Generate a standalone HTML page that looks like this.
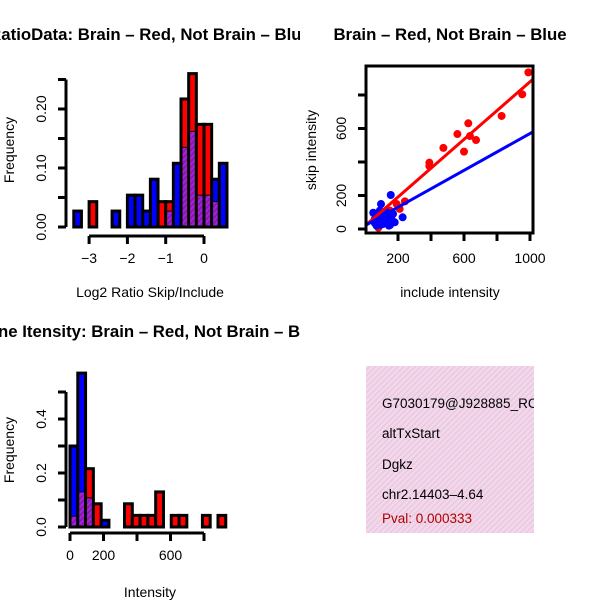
<!DOCTYPE html>
<html><head><meta charset="utf-8"><style>
body{margin:0;background:#fff}
svg{display:block;font-family:"Liberation Sans",Arial,sans-serif}
</style></head><body>
<svg id="s" width="600" height="600">
<defs>
<pattern id="hatch" width="4" height="4" patternUnits="userSpaceOnUse" patternTransform="rotate(45)">
<rect width="4" height="4" fill="#a020f0"/><rect width="2" height="4" fill="#8a1a9a"/></pattern>
<pattern id="pinkhatch" width="4" height="4" patternUnits="userSpaceOnUse" patternTransform="rotate(45)">
<rect width="4" height="4" fill="#f8d4f2"/><rect width="1.3" height="4" fill="#dccfd0"/></pattern>
<clipPath id="c1"><rect x="0" y="0" width="300" height="300"/></clipPath>
<clipPath id="c3"><rect x="0" y="300" width="300" height="300"/></clipPath>
<clipPath id="cinfo"><rect x="366" y="366" width="168" height="167"/></clipPath>
</defs>
<g id="p1" clip-path="url(#c1)"></g>
<g id="p2"></g>
<g id="p3" clip-path="url(#c3)"></g>
<g clip-path="url(#cinfo)" font-size="13.5">
<rect x="366" y="366" width="168" height="167" fill="url(#pinkhatch)"/>
<text x="382" y="408">G7030179@J928885_RC</text>
<text x="382" y="438">altTxStart</text>
<text x="382" y="469">Dgkz</text>
<text x="382" y="499">chr2.14403–4.64</text>
<text x="382" y="523" fill="#b00000">Pval: 0.000333</text>
</g>
</svg>
<script>
const NS="http://www.w3.org/2000/svg";
const FS=14, TFS=16.8;
function mk(p,t,a){const e=document.createElementNS(NS,t);for(const k in a)e.setAttribute(k,a[k]);p.appendChild(e);return e;}

// ---- Ratio histogram data ----
const ratioBinStart=-3.4, ratioBinWidth=0.2;
const ratioRed=[0,0,0.043,0,0,0,0,0,0,0,0,0.043,0.043,0,0.217,0.26,0.174,0.174,0.043,0];
const ratioBlue=[0.027,0,0,0,0,0.027,0,0.054,0.054,0.027,0.081,0,0.027,0.108,0.135,0.162,0.054,0.054,0.081,0.108];
const ratioXTicks=[-3,-2,-1,0];
const ratioYTicks=[0,0.05,0.1,0.15,0.2,0.25];
const ratioYLabels=["0.00","","0.10","","0.20",""];

// ---- Intensity histogram data ----
const intBinStart=0, intBinWidth=46.5;
const intRed=[0.04,0.13,0.216,0.086,0,0,0,0.086,0.043,0.043,0.043,0.13,0,0.043,0.043,0,0,0.043,0,0.043];
const intBlue=[0.30,0.57,0.108,0,0.025,0,0,0,0,0,0,0,0,0,0,0,0,0,0,0];
const intXTicks=[0,200,400,600,800];
const intXLabels=["0","200","","600",""];
const intYTicks=[0,0.1,0.2,0.3,0.4,0.5];
const intYLabels=["0.0","","0.2","","0.4",""];

// ---- Scatter data ----
const redX=[990,953,828,626,560,636,673,600,475,390,390,242,192,81,150,120,210];
const redY=[935,804,675,631,567,555,531,462,484,396,376,165,149,8,110,80,120];
const blueX=[156,97,228,50,152,60,80,100,120,140,70,90,110,130,160,180,75,105,145,170,60,95,125,135];
const blueY=[203,149,70,97,24,60,40,80,50,90,20,110,30,100,60,40,70,60,20,90,35,25,75,45];
const redFit=[19,0.86];
const blueFit=[20,0.55];
const scXTicks=[200,400,600,800,1000];
const scXLabels=["200","","600","","1000"];
const scYTicks=[0,200,400,600,800];
const scYLabels=["0","200","","600",""];

function hist(g,xs,ys,binStart,binW,red,blue,xt,xl,yt,yl,axY,xAxisY){
  for(let i=0;i<red.length;i++){
    const x0=xs(binStart+i*binW), x1=xs(binStart+(i+1)*binW);
    const r=red[i], b=blue[i];
    const hi=Math.max(r,b), lo=Math.min(r,b);
    if(hi>0){
      const bar=mk(g,'rect',{x:x0,y:ys(hi),width:x1-x0,height:ys(0)-ys(hi),fill:r>=b?'#ff0000':'#0000ff',stroke:'#000','stroke-width':3});
      
      
    }
    if(lo>0){
      const ov=mk(g,'rect',{x:x0+1.5,y:ys(lo),width:x1-x0-3,height:ys(0)-ys(lo)-1.5,fill:'url(#hatch)'});
      
      
      mk(g,'line',{x1:x0,x2:x1,y1:ys(lo),y2:ys(lo),stroke:'#000','stroke-width':1});
    }
  }
  const ya=mk(g,'line',{x1:axY,x2:axY,y1:ys(yt[0]),y2:ys(yt[yt.length-1]),stroke:'#000','stroke-width':3});
  
  
  yt.forEach((v,i)=>{
    mk(g,'line',{x1:axY-8,x2:axY,y1:ys(v),y2:ys(v),stroke:'#000','stroke-width':3});
    if(yl[i]){const t=mk(g,'text',{x:0,y:0,'font-size':FS,'text-anchor':'middle',transform:`translate(${axY-20},${ys(v)}) rotate(-90)`});t.textContent=yl[i];
      
      }
  });
  const xa=mk(g,'line',{x1:xs(xt[0]),x2:xs(xt[xt.length-1]),y1:xAxisY,y2:xAxisY,stroke:'#000','stroke-width':3});
  
  
  xt.forEach((v,i)=>{
    mk(g,'line',{x1:xs(v),x2:xs(v),y1:xAxisY,y2:xAxisY+8,stroke:'#000','stroke-width':3});
    if(xl[i]){const t=mk(g,'text',{x:xs(v),y:xAxisY+27,'font-size':FS,'text-anchor':'middle'});t.textContent=xl[i];
      
      }
  });
}
function label(g,x,y,txt,name,opts){
  const t=mk(g,'text',Object.assign({x:x,y:y,'font-size':FS,'text-anchor':'middle'},opts||{}));
  t.textContent=txt;
  
  
  return t;
}

// Panel 1
const p1=document.getElementById('p1');
const xs1=v=>204+v*38.3, ys1=v=>227-v*590;
hist(p1,xs1,ys1,ratioBinStart,ratioBinWidth,ratioRed,ratioBlue,ratioXTicks,ratioXTicks.map(v=>v<0?'−'+(-v):String(v)),ratioYTicks,ratioYLabels,66,236);
label(p1,150,40,'RatioData: Brain – Red, Not Brain – Blue','chart-title',{'font-size':TFS,'font-weight':'bold'});
label(p1,150,297,'Log2 Ratio Skip/Include','x-axis-title');
label(p1,0,0,'Frequency','y-axis-title',{transform:'translate(14,150) rotate(-90)'});

// Panel 3
const p3=document.getElementById('p3');
const xs3=v=>70+v*0.1675, ys3=v=>527-v*270;
hist(p3,xs3,ys3,intBinStart,intBinWidth,intRed,intBlue,intXTicks,intXLabels,intYTicks,intYLabels,66,533);
label(p3,150,337,'Gene Itensity: Brain – Red, Not Brain – Blue','chart-title',{'font-size':TFS,'font-weight':'bold'});
label(p3,150,597,'Intensity','x-axis-title');
label(p3,0,0,'Frequency','y-axis-title',{transform:'translate(14,450) rotate(-90)'});

// Panel 2 scatter
const p2=document.getElementById('p2');
const xs2=v=>365+v*0.165, ys2=v=>229-v*0.1675;
redX.forEach((v,i)=>{const c=mk(p2,'circle',{cx:xs2(v),cy:ys2(redY[i]),r:4,fill:'#ff0000'});
  
  });
blueX.forEach((v,i)=>{const c=mk(p2,'circle',{cx:xs2(v),cy:ys2(blueY[i]),r:4,fill:'#0000ff'});
  
  });
[[redFit,'#ff0000','red-fit-line'],[blueFit,'#0000ff','blue-fit-line']].forEach(([f,col,n])=>{
  const xa=6,xb=1016;
  const l=mk(p2,'line',{x1:xs2(xa),y1:ys2(f[0]+f[1]*xa),x2:xs2(xb),y2:ys2(f[0]+f[1]*xb),stroke:col,'stroke-width':3});
  
  
});
const box=mk(p2,'rect',{x:366,y:66,width:167,height:167,fill:'none',stroke:'#000','stroke-width':3});


scYTicks.forEach((v,i)=>{mk(p2,'line',{x1:358,x2:366,y1:ys2(v),y2:ys2(v),stroke:'#000','stroke-width':3});
  if(scYLabels[i])label(p2,0,0,scYLabels[i],'y-tick-label',{transform:`translate(346,${ys2(v)}) rotate(-90)`});});
scXTicks.forEach((v,i)=>{mk(p2,'line',{x1:xs2(v),x2:xs2(v),y1:233,y2:241,stroke:'#000','stroke-width':3});
  if(scXLabels[i])label(p2,xs2(v),263,scXLabels[i],'x-tick-label');});
label(p2,450,40,'Brain – Red, Not Brain – Blue','chart-title',{'font-size':TFS,'font-weight':'bold'});
label(p2,450,297,'include intensity','x-axis-title');
label(p2,0,0,'skip intensity','y-axis-title',{transform:'translate(316,150) rotate(-90)'});
</script>
</body></html>
